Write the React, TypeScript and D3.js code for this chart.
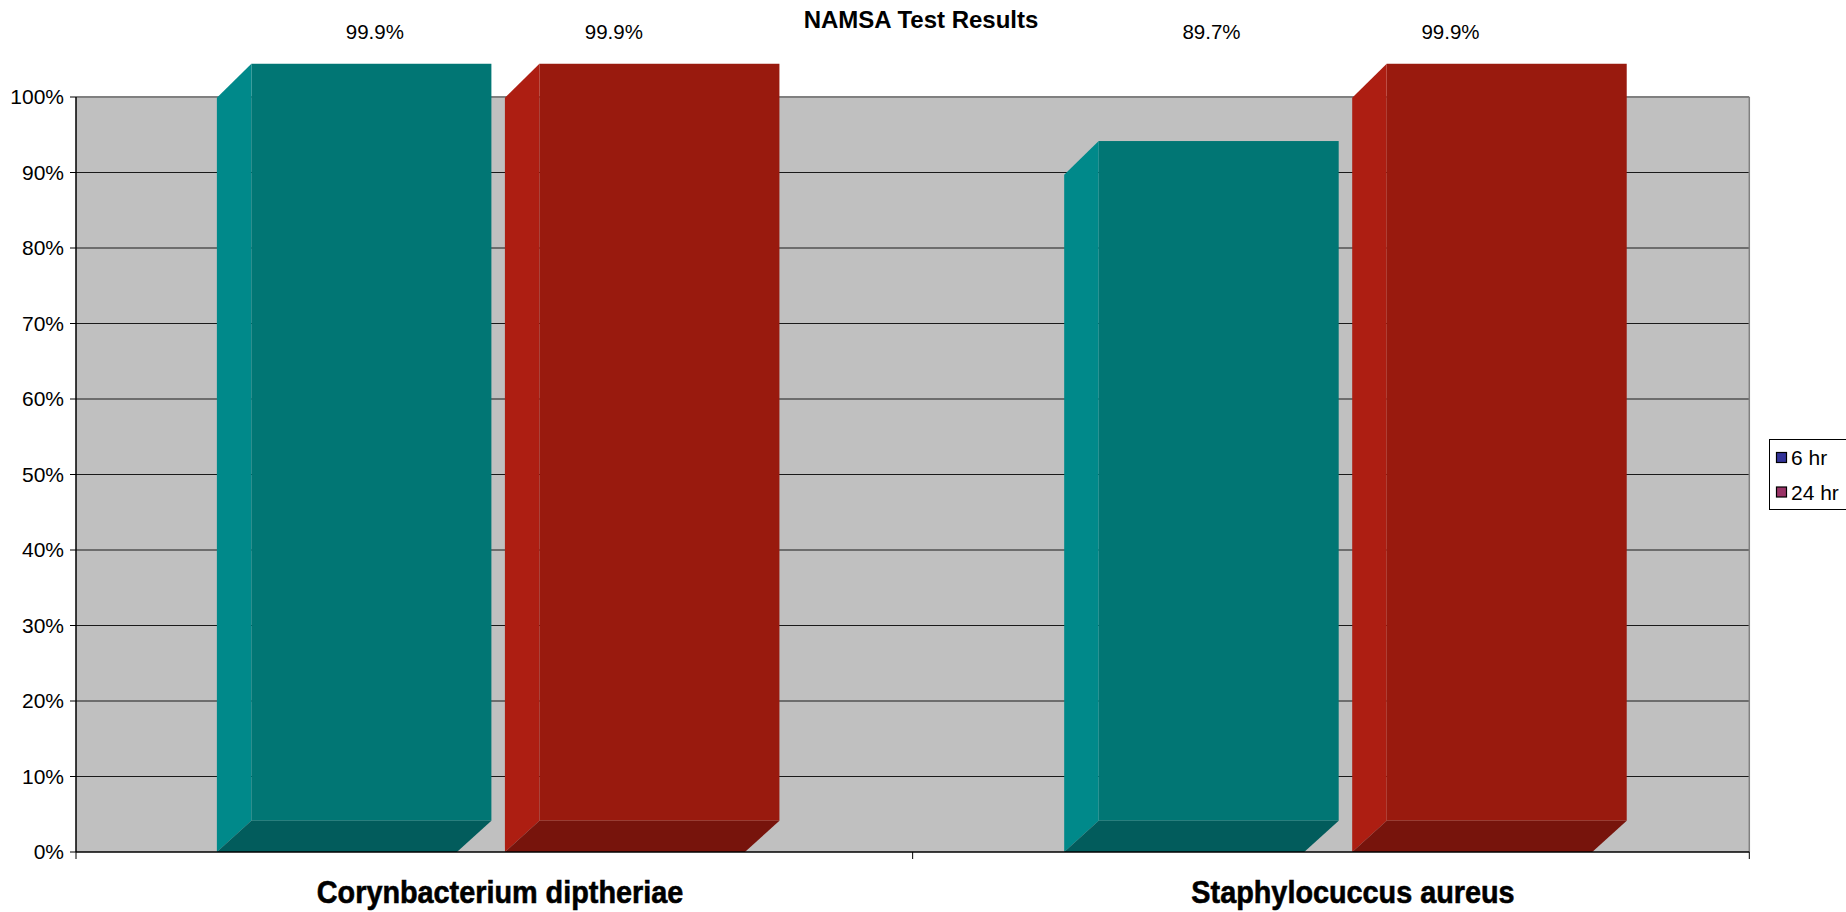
import React from "react";
import * as d3 from "d3";

const title = "NAMSA Test Results";
const categories = ["Corynbacterium diptheriae", "Staphylocuccus aureus"];
const series = ["6 hr", "24 hr"];
const values6hr = [0.999, 0.897];
const values24hr = [0.999, 0.999];
const yTicks = [0, 0.1, 0.2, 0.3, 0.4, 0.5, 0.6, 0.7, 0.8, 0.9, 1.0];

const W = 1846;
const H = 912;
const FONT = "'Liberation Sans', Arial, Helvetica, sans-serif";

const faceColors: Record<string, { side: string; front: string; bottom: string; legend: string }> = {
  "6 hr": { side: "#00898a", front: "#017674", bottom: "#025c5c", legend: "#333399" },
  "24 hr": { side: "#ad1e12", front: "#991a0e", bottom: "#77140c", legend: "#993366" },
};

export default function App() {
  const plotLeft = 76;
  const plotRight = 1749.3;
  const plotTop = 97;
  const plotBottom = 852;
  const depthX = 34.5;

  const y = d3.scaleLinear().domain([0, 1]).range([plotBottom, plotTop]);
  const yBack = d3.scaleLinear().domain([0, 1]).range([820.7, 63]);
  const xAxis = d3.scaleBand<string>().domain(categories).range([plotLeft, plotRight]);
  const xBars = d3
    .scaleBand<string>()
    .domain(categories)
    .range([57.25, 1751.85])
    .paddingInner(0.3768)
    .paddingOuter(0.1884);
  const x1 = d3.scaleBand<string>().domain(series).range([0, xBars.bandwidth()]).paddingInner(0.1667);
  const xLabel = d3.scaleBand<string>().domain(series).range([-239, 239]);
  const xCatLabel = d3.scaleBand<string>().domain(categories).range([73.5, 1779.5]);
  const fmtPct = d3.format(".1%");
  const fmtTick = d3.format(".0%");

  const data = categories.flatMap((c, i) => [
    { cat: c, s: series[0], v: values6hr[i] },
    { cat: c, s: series[1], v: values24hr[i] },
  ]);

  return (
    <svg
      width={W}
      height={H}
      style={{ position: "absolute", left: 0, top: 0, display: "block", background: "#ffffff" }}
      fontFamily={FONT}
    >
      {/* plot background */}
      <rect x={plotLeft} y={plotTop} width={plotRight - plotLeft} height={plotBottom - plotTop} fill="#c0c0c0" />
      {/* gridlines */}
      {yTicks.slice(1, -1).map((t) => (
        <line key={t} x1={plotLeft} x2={plotRight} y1={y(t)} y2={y(t)} stroke="#1a1a1a" strokeWidth={1} />
      ))}
      <line x1={plotLeft} x2={plotRight} y1={y(1)} y2={y(1)} stroke="#808080" strokeWidth={2} />
      <line x1={plotRight} x2={plotRight} y1={plotTop} y2={plotBottom} stroke="#808080" strokeWidth={1.5} />

      {/* bars */}
      {data.map((d) => {
        const c = faceColors[d.s];
        const x0 = (xBars(d.cat) as number) + (x1(d.s) as number);
        const w = x1.bandwidth();
        const yt = y(d.v);
        const yb = y(0);
        const ytb = yBack(d.v);
        const ybb = yBack(0);
        const side = `M${x0},${yt} L${x0 + depthX},${ytb} L${x0 + depthX},${ybb} L${x0},${yb} Z`;
        const bottom = `M${x0},${yb} L${x0 + w},${yb} L${x0 + w + depthX},${ybb} L${x0 + depthX},${ybb} Z`;
        return (
          <g key={d.cat + d.s}>
            <rect x={x0 + depthX} y={ytb} width={w} height={ybb - ytb} fill={c.front} />
            <path d={side} fill={c.side} />
            <path d={bottom} fill={c.bottom} />
          </g>
        );
      })}

      {/* axes */}
      <line x1={plotLeft} x2={plotLeft} y1={plotTop} y2={plotBottom} stroke="#000" strokeWidth={1.5} />
      <line x1={plotLeft} x2={plotRight} y1={plotBottom} y2={plotBottom} stroke="#000" strokeWidth={1.5} />
      {yTicks.map((t) => (
        <g key={"yt" + t}>
          <line x1={plotLeft - 6} x2={plotLeft} y1={y(t)} y2={y(t)} stroke="#000" strokeWidth={1} />
          <text x={plotLeft - 12} y={y(t)} dy="0.35em" textAnchor="end" fontSize={21} fill="#000">
            {fmtTick(t)}
          </text>
        </g>
      ))}
      {[...categories.map((c) => xAxis(c) as number), plotRight].map((xv, i) => (
        <line key={"xt" + i} x1={xv} x2={xv} y1={plotBottom} y2={plotBottom + 7} stroke="#000" strokeWidth={1} />
      ))}
      {categories.map((c) => (
        <text
          key={"cl" + c}
          transform={`translate(${(xCatLabel(c) as number) + xCatLabel.bandwidth() / 2}, 903) scale(0.9, 1)`}
          x={0}
          y={0}
          textAnchor="middle"
          fontSize={32}
          fontWeight="bold"
          fill="#000"
          stroke="#000"
          strokeWidth={0.6}
        >
          {c}
        </text>
      ))}

      {/* data labels */}
      {data.map((d) => (
        <text
          key={"dl" + d.cat + d.s}
          x={(xAxis(d.cat) as number) + xAxis.bandwidth() / 2 + (xLabel(d.s) as number) + xLabel.bandwidth() / 2}
          y={32}
          dy="0.35em"
          textAnchor="middle"
          fontSize={20.5}
          fill="#000"
        >
          {fmtPct(d.v)}
        </text>
      ))}

      {/* title */}
      <text x={921} y={20} dy="0.35em" textAnchor="middle" fontSize={24} fontWeight="bold" fill="#000">
        {title}
      </text>

      {/* legend */}
      <rect x={1769.5} y={439.5} width={100} height={70} fill="#fff" stroke="#000" strokeWidth={1} />
      {series.map((s, i) => (
        <g key={"lg" + s} transform={`translate(1776, ${457.5 + i * 34.5})`}>
          <rect x={0.5} y={-5} width={10} height={10} fill={faceColors[s].legend} stroke="#000" strokeWidth={1.2} />
          <text x={15} y={0} dy="0.36em" fontSize={21} fill="#000">
            {s}
          </text>
        </g>
      ))}
    </svg>
  );
}
